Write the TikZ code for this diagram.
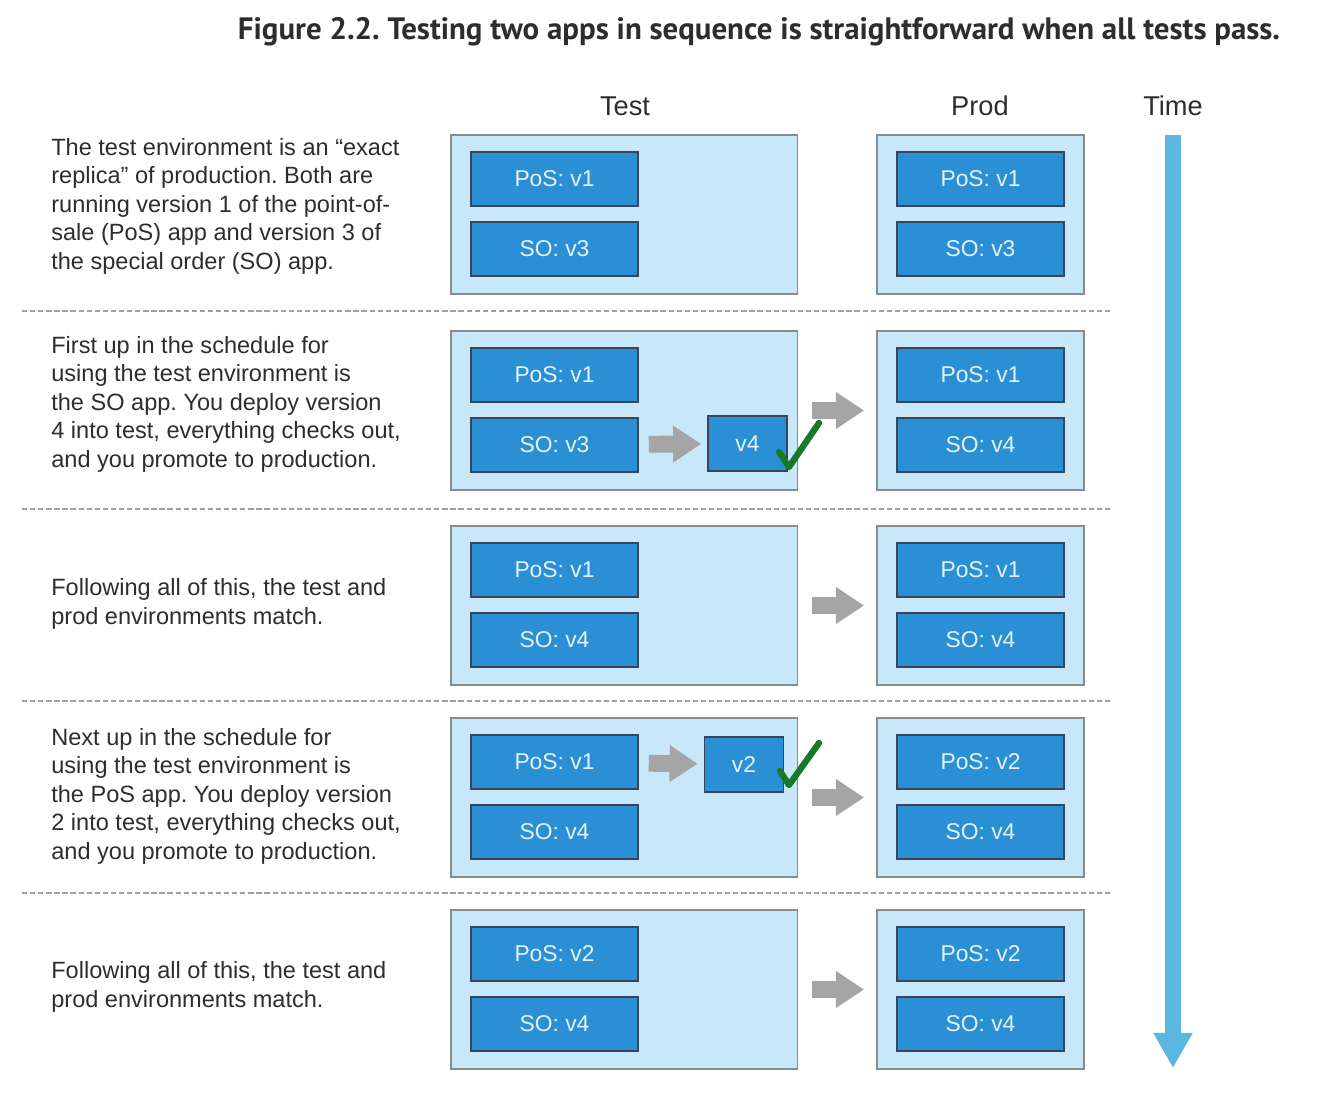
\documentclass[tikz,border=0pt]{standalone}
\usepackage{fontspec}
\setmainfont{Liberation Sans}
\newfontfamily\titlefont{PT Sans}
\usetikzlibrary{arrows.meta, positioning, calc}
\usepackage{xcolor}
\definecolor{envfill}{RGB}{200,232,250}
\definecolor{envline}{RGB}{135,140,145}
\definecolor{appfill}{RGB}{42,143,212}
\definecolor{appline}{RGB}{55,70,90}
\definecolor{apptext}{RGB}{228,242,252}
\definecolor{stepgray}{RGB}{165,165,165}
\definecolor{okgreen}{RGB}{22,122,42}
\definecolor{timeblue}{RGB}{92,182,226}
\definecolor{txt}{RGB}{45,45,45}
\frenchspacing

\begin{document}
\begin{tikzpicture}[x=0.02cm, y=-0.02cm, text=txt,
  envtest/.style={draw=envline, fill=envfill, line width=1.1pt, minimum width=6.94cm, minimum height=3.18cm, inner sep=0pt},
  envprod/.style={envtest, minimum width=4.14cm},
  app/.style={draw=appline, fill=appfill, line width=0.9pt, text=apptext, font=\fontsize{13}{13}\selectfont, minimum width=3.34cm, minimum height=1.08cm, inner sep=0pt},
  newver/.style={app, minimum width=1.58cm, minimum height=1.1cm},
  promote/.style={draw=stepgray, line width=9.6pt, -{Triangle[length=16pt, width=20pt]}},
  okmark/.style={draw=okgreen, line width=3.6pt, line cap=round, line join=round},
  desc/.style={anchor=west, align=left, inner sep=0pt, font=\fontsize{13.4}{16.2}\selectfont},
  head/.style={font=\fontsize{15.5}{15.5}\selectfont},
  sep/.style={draw=gray!75, line width=1pt, dash pattern=on 3pt off 1.6pt}]
  \useasboundingbox (0,0) rectangle (1322,1098);

  % Caption and column heads
  \node[font=\titlefont\bfseries\fontsize{17.6}{17.6}\selectfont] (title) at (759,32) {Figure 2.2. Testing two apps in sequence is straightforward when all tests pass.};
  \node[head] (htest) at (625,106) {Test};
  \node[head] (hprod) at (980,106) {Prod};
  \node[head] (htime) at (1173,106) {Time};

  % Environments, one row per step
  \foreach \i/\top/\tp/\ts/\pp/\ps in {
    1/135/v1/v3/v1/v3,
    2/331/v1/v3/v1/v4,
    3/526/v1/v4/v1/v4,
    4/718/v1/v4/v2/v4,
    5/910/v2/v4/v2/v4
  }{
    \node[envtest] (test\i) at (624,\top+79.5) {};
    \node[envprod] (prod\i) at (980.5,\top+79.5) {};
    \node[app] (tpos\i) at (554.5,\top+44) {PoS: \tp};
    \node[app] (tso\i)  at (554.5,\top+114) {SO: \ts};
    \node[app] (ppos\i) at (980.5,\top+44) {PoS: \pp};
    \node[app] (pso\i)  at (980.5,\top+114) {SO: \ps};
  }

  % Separators
  \foreach \y in {311,509,701,893}
    \draw[sep] (22,\y) -- (1112,\y);

  % Descriptions
  \node[desc] (d1) at (51,206) {The test environment is an “exact\\replica” of production. Both are\\running version 1 of the point-of-\\sale (PoS) app and version 3 of\\the special order (SO) app.};
  \node[desc] (d2) at (51,404) {First up in the schedule for\\using the test environment is\\the SO app. You deploy version\\4 into test, everything checks out,\\and you promote to production.};
  \node[desc] (d3) at (51,604) {Following all of this, the test and\\prod environments match.};
  \node[desc] (d4) at (51,796) {Next up in the schedule for\\using the test environment is\\the PoS app. You deploy version\\2 into test, everything checks out,\\and you promote to production.};
  \node[desc] (d5) at (51,987) {Following all of this, the test and\\prod environments match.};

  % New versions under test
  \node[newver] (so4) at (747.5,443.5) {v4};
  \node[newver] (pos2) at (744,764.5) {v2};
  \draw[promote, shorten <=0.2cm, shorten >=0.12cm] (tso2) -- (so4);
  \draw[promote, shorten <=0.2cm, shorten >=0.12cm] (tpos4) -- (pos2);
  \draw[okmark] (779,452) -- (789,467) -- (819,423);
  \draw[okmark] (780,771) -- (789,785) -- (819,743);

  % Promotion to production
  \foreach \i in {2,3,4,5}
    \draw[promote, shorten <=0.28cm, shorten >=0.24cm] (test\i) -- (prod\i);

  % Time axis
  \coordinate (tstart) at (1173,135);
  \coordinate (tend) at (1173,1068);
  \draw[draw=timeblue, line width=9pt, -{Triangle[length=20pt, width=21pt]}] (tstart) -- (tend);
\end{tikzpicture}
\end{document}
